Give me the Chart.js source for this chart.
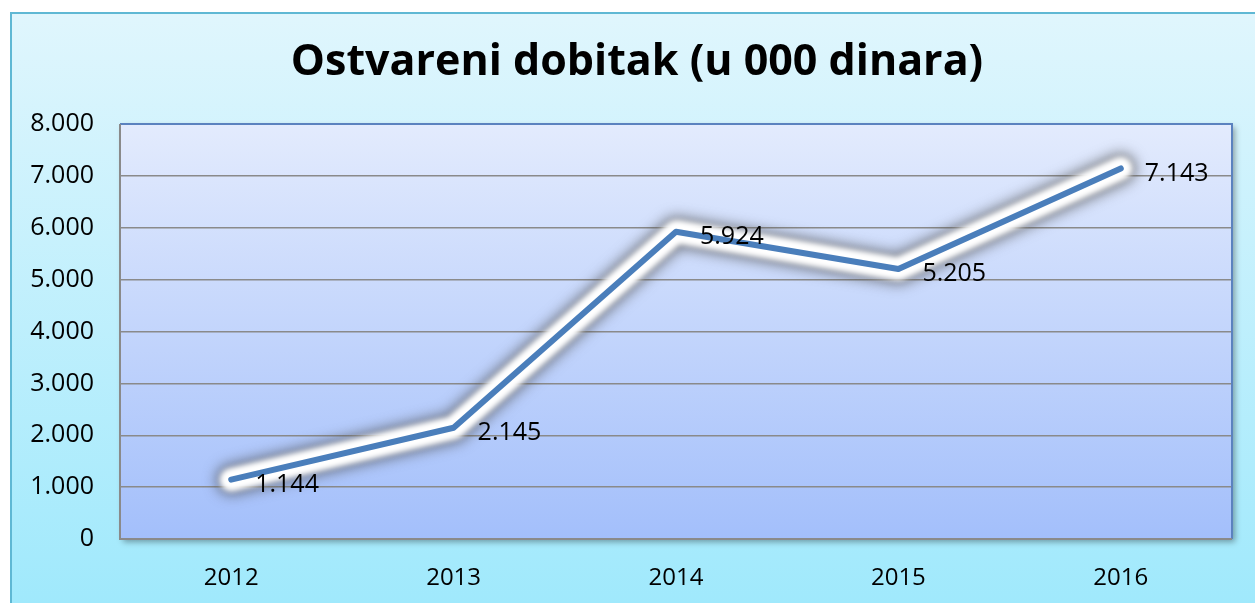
<!DOCTYPE html>
<html>
<head>
<meta charset="utf-8">
<script src="https://cdn.jsdelivr.net/npm/chart.js@4.4.1/dist/chart.umd.min.js"></script>
<style>
  html, body { margin: 0; padding: 0; background: #ffffff; }
  #wrap { width: 1255px; height: 603px; position: relative; }
</style>
</head>
<body>
<div id="wrap"><canvas id="profitChart" width="1255" height="603"></canvas></div>
<script>
const years = ['2012', '2013', '2014', '2015', '2016'];
const profit = [1144, 2145, 5924, 5205, 7143];
const chartTitle = 'Ostvareni dobitak (u 000 dinara)';

function fmt(v) {
  return String(v).replace(/\B(?=(\d{3})+(?!\d))/g, '.');
}

function tracePath(ctx, pts) {
  ctx.beginPath();
  pts.forEach((p, i) => i ? ctx.lineTo(p.x, p.y) : ctx.moveTo(p.x, p.y));
}

// backgrounds, title, plot frame, glow under the line and value labels
const decor = {
  id: 'decor',
  beforeDraw(chart) {
    const ctx = chart.ctx;
    const a = chart.chartArea;
    ctx.save();
    const g = ctx.createLinearGradient(0, 12, 0, 603);
    g.addColorStop(0, '#e0f6fd');
    g.addColorStop(1, '#a0e9fc');
    ctx.fillStyle = g;
    ctx.fillRect(11, 13, 1260, 600);
    ctx.strokeStyle = '#5fb8d4';
    ctx.lineWidth = 2;
    ctx.strokeRect(11, 13, 1260, 600);

    ctx.font = 'bold 43px "Open Sans"';
    ctx.fillStyle = '#000000';
    ctx.textAlign = 'center';
    ctx.textBaseline = 'middle';
    ctx.fillText(chartTitle, 637, 63);

    ctx.shadowColor = 'rgba(0,0,0,0.35)';
    ctx.shadowBlur = 6;
    ctx.shadowOffsetX = 3;
    ctx.shadowOffsetY = 3;
    const pg = ctx.createLinearGradient(0, a.top, 0, a.bottom);
    pg.addColorStop(0, '#e3ebfd');
    pg.addColorStop(1, '#a3bffb');
    ctx.fillStyle = pg;
    ctx.fillRect(a.left, a.top, a.right - a.left, a.bottom - a.top);
    ctx.restore();
  },
  afterDraw(chart) {
    const ctx = chart.ctx;
    const a = chart.chartArea;
    ctx.save();
    ctx.lineWidth = 2;
    ctx.strokeStyle = '#5b82bf';
    ctx.beginPath();
    ctx.moveTo(a.left, a.top);
    ctx.lineTo(a.right, a.top);
    ctx.lineTo(a.right, a.bottom);
    ctx.stroke();
    ctx.strokeStyle = '#8a8a8a';
    ctx.beginPath();
    ctx.moveTo(a.left, a.top);
    ctx.lineTo(a.left, a.bottom);
    ctx.lineTo(a.right, a.bottom);
    ctx.stroke();
    ctx.restore();
  },
  beforeDatasetsDraw(chart) {
    const ctx = chart.ctx;
    const pts = chart.getDatasetMeta(0).data;
    ctx.save();
    ctx.lineJoin = 'round';
    ctx.lineCap = 'round';
    ctx.filter = 'blur(7px)';
    ctx.strokeStyle = 'rgba(70,70,70,0.7)';
    ctx.lineWidth = 30;
    tracePath(ctx, pts);
    ctx.stroke();
    ctx.filter = 'blur(3px)';
    ctx.strokeStyle = '#ffffff';
    ctx.lineWidth = 20;
    tracePath(ctx, pts);
    ctx.stroke();
    ctx.stroke();
    ctx.restore();
  },
  afterDatasetsDraw(chart) {
    const ctx = chart.ctx;
    const pts = chart.getDatasetMeta(0).data;
    ctx.save();
    ctx.font = '25px "Open Sans"';
    ctx.fillStyle = '#000000';
    ctx.textAlign = 'left';
    ctx.textBaseline = 'middle';
    pts.forEach((p, i) => ctx.fillText(fmt(profit[i]), p.x + 24, p.y + 5));
    ctx.restore();
  }
};

const ctx = document.getElementById('profitChart').getContext('2d');
const profitChart = new Chart(ctx, {
  type: 'line',
  data: {
    labels: years,
    datasets: [{
      label: 'Dobitak',
      data: profit,
      borderColor: '#4a7ebb',
      borderWidth: 6,
      borderCapStyle: 'round',
      borderJoinStyle: 'round',
      pointRadius: 0,
      tension: 0,
      fill: false
    }]
  },
  options: {
    responsive: false,
    animation: false,
    layout: { padding: { left: 0, right: 23, top: 124, bottom: 0 } },
    plugins: {
      legend: { display: false },
      tooltip: { enabled: false },
      title: { display: false }
    },
    scales: {
      x: {
        offset: true,
        grid: { display: false, drawTicks: false },
        border: { display: false },
        ticks: { color: '#000', font: { family: '"Open Sans"', size: 24 }, padding: 25 },
        afterFit(scale) { scale.height = 64; }
      },
      y: {
        min: 0,
        max: 8000,
        grid: { color: '#8a8a8a', lineWidth: 1.5, drawTicks: false },
        border: { display: false },
        ticks: {
          stepSize: 1000,
          color: '#000',
          padding: 26,
          font: { family: '"Open Sans"', size: 25 },
          callback: (v) => fmt(v)
        },
        afterFit(scale) { scale.width = 120; }
      }
    }
  },
  plugins: [decor]
});
</script>
</body>
</html>
